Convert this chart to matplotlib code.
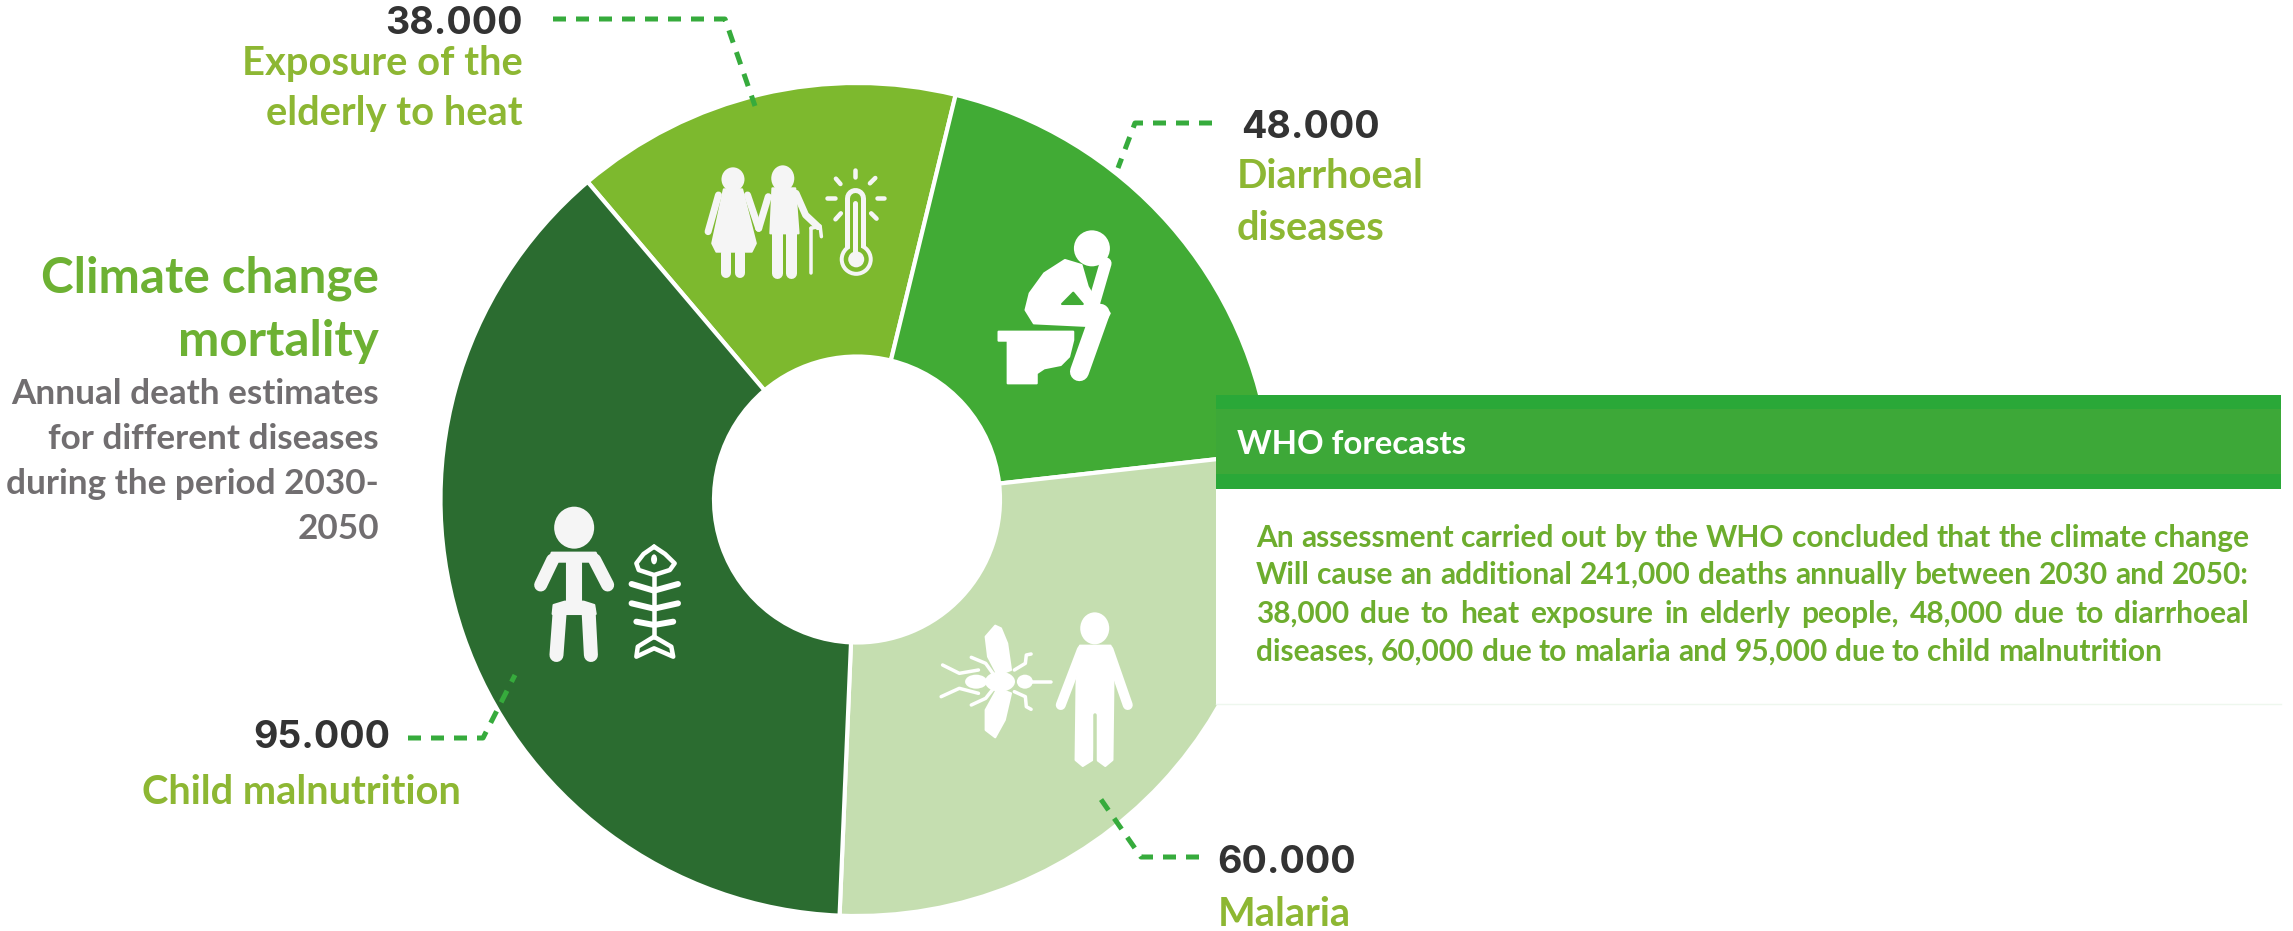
import matplotlib
matplotlib.use("Agg")
import matplotlib.pyplot as plt
from matplotlib.patches import Ellipse, Polygon, Rectangle

# -------------------------
# Data
# -------------------------
categories = ["Exposure of the\nelderly to heat", "Diarrhoeal\ndiseases", "Malaria", "Child malnutrition"]
death_labels = ["38.000", "48.000", "60.000", "95.000"]
# slice sizes as drawn in the picture (degrees), not exactly proportional to deaths
slice_degrees = [54.0, 69.9, 98.8, 137.3]
slice_colors = ["#7DB92E", "#41AB35", "#C5DEB0", "#2B6C30"]

title_lines = ["Climate change", "mortality"]
subtitle_lines = ["Annual death estimates", "for different diseases", "during the period 2030-", "2050"]
box_title = "WHO forecasts"
box_lines = [
    "An assessment carried out by the WHO concluded that the climate change",
    "Will cause an additional 241,000 deaths annually between 2030 and 2050:",
    "38,000 due to heat exposure in elderly people, 48,000 due to diarrhoeal",
    "diseases, 60,000 due to malaria and 95,000 due to child malnutrition",
]

W, H = 2293, 931
plt.rcParams["font.family"] = ["Lato", "DejaVu Sans"]
fig = plt.figure(figsize=(W / 100, H / 100), dpi=100)
ax = fig.add_axes([0, 0, 1, 1])

# -------------------------
# Donut (axis runs in image pixels, y downwards)
# -------------------------
ax.pie(slice_degrees, colors=slice_colors, center=(857, 499.5), radius=416.5, startangle=-130.3,
       wedgeprops=dict(width=273.5, edgecolor="white", linewidth=3))
ax.set_xlim(0, W)
ax.set_ylim(H, 0)
ax.set_aspect("auto")
ax.axis("off")


def px(v):
    return v * 0.72


def crop(x0, y0, sx, sy):
    return lambda pts: [(x0 + a / sx, y0 + b / sy) for a, b in pts]


def stroke(pts, lw, color="white", z=3):
    ax.plot(*zip(*pts), lw=px(lw), color=color, solid_capstyle="round", solid_joinstyle="round", zorder=z)


def poly(pts, color="white", z=3):
    ax.add_patch(Polygon(pts, closed=True, fc=color, ec=color, lw=1.5, joinstyle="round", zorder=z))


def dot(x, y, rx, ry, color="white", z=3):
    ax.add_patch(Ellipse((x, y), 2 * rx, 2 * ry, fc=color, ec="none", zorder=z))


# -------------------------
# Icons
# -------------------------
GREY = "#F5F5F5"
c = crop(650, 100, 2.41, 3)
# elderly couple
dot(*c([(200, 238)])[0], 11.5, 12, GREY)
poly(c([(178, 268), (222, 268), (255, 430), (245, 455), (160, 455), (150, 430)]), GREY)
stroke(c([(165, 285), (140, 395)]), 7, GREY)
stroke(c([(235, 285), (262, 385)]), 7, GREY)
stroke(c([(183, 460), (183, 520)]), 10, GREY)
stroke(c([(218, 460), (218, 520)]), 10, GREY)
dot(*c([(320, 235)])[0], 11.5, 13, GREY)
poly(c([(295, 265), (350, 265), (358, 400), (290, 400)]), GREY)
stroke(c([(305, 400), (305, 520)]), 11, GREY)
stroke(c([(340, 400), (340, 520)]), 11, GREY)
stroke(c([(285, 290), (262, 385)]), 7, GREY)
stroke(c([(352, 280), (375, 345), (405, 380)]), 7, GREY)
stroke(c([(388, 385), (388, 520)]), 3.5, GREY)
stroke(c([(388, 385), (410, 378), (413, 410)]), 3.5, GREY)
# thermometer
stroke(c([(495, 295), (495, 470)]), 21, GREY)
dot(*c([(497, 478)])[0], 16.5, 16.5, GREY)
stroke(c([(495, 295), (495, 470)]), 11, slice_colors[0])
dot(*c([(497, 478)])[0], 12.5, 12.5, slice_colors[0])
stroke(c([(495, 310), (495, 470)]), 5, GREY)
dot(*c([(497, 478)])[0], 8, 8, GREY)
for ray in [[(494, 210), (494, 232)], [(448, 236), (459, 252)], [(543, 234), (530, 250)], [(427, 295), (445, 295)],
            [(546, 294), (565, 294)], [(447, 358), (460, 340)], [(546, 356), (533, 340)]]:
    stroke(c(ray), 4.5, GREY)

# figure on the toilet
dot(*c([(1065, 445)])[0], 18, 18)
poly(c([(1000, 480), (1040, 495), (1055, 560), (1080, 612), (1095, 620), (1108, 640), (1090, 680), (925, 670),
        (905, 630), (915, 580), (950, 520)]))
stroke(c([(1085, 640), (1035, 815)]), 19)
stroke(c([(1098, 490), (1070, 610)]), 12)
poly(c([(1020, 578), (993, 612), (1043, 612)]), slice_colors[1])
poly(c([(840, 695), (1020, 695), (1020, 720), (1010, 770), (990, 795), (950, 805), (932, 820), (932, 850),
        (862, 850), (862, 722), (840, 722)]))

c = crop(500, 480, 2.09, 3)
# child
dot(*c([(155, 143)])[0], 20, 21, GREY)
poly(c([(108, 218), (200, 218), (208, 245), (102, 245)]), GREY)
stroke(c([(110, 240), (85, 315)]), 13, GREY)
stroke(c([(198, 240), (225, 315)]), 13, GREY)
poly(c([(140, 240), (170, 240), (170, 370), (140, 370)]), GREY)
poly(c([(112, 375), (135, 365), (175, 365), (197, 375), (200, 402), (110, 402)]), GREY)
stroke(c([(125, 390), (118, 525)]), 14, GREY)
stroke(c([(185, 390), (190, 525)]), 14, GREY)
# fish bones
stroke(c([(322, 200), (300, 222), (285, 250), (290, 270), (322, 285), (355, 270), (365, 250), (345, 222), (322, 200)]), 4.5)
dot(*c([(322, 238)])[0], 3, 5)
stroke(c([(322, 285), (322, 470)]), 4.5)
stroke(c([(275, 312), (322, 332), (372, 312)]), 6)
stroke(c([(275, 370), (322, 386), (372, 370)]), 6)
stroke(c([(285, 425), (322, 435), (362, 425)]), 6)
stroke(c([(322, 470), (288, 500), (285, 530), (322, 505), (362, 530), (358, 500), (322, 470)]), 4.5)

# mosquito
dot(*c([(995, 605)])[0], 11, 7)
dot(*c([(1045, 605)])[0], 15, 10)
dot(*c([(1097, 605)])[0], 8, 7)
stroke(c([(1097, 605), (1152, 605)]), 3.5)
poly(c([(1035, 437), (1015, 470), (1020, 530), (1040, 585), (1068, 570), (1060, 490), (1047, 445)]))
poly(c([(1040, 625), (1068, 640), (1055, 720), (1035, 772), (1015, 750), (1015, 690)]))
for leg in [[(1030, 580), (1015, 550), (985, 532)], [(1000, 570), (960, 580), (925, 555)],
            [(1000, 640), (960, 625), (922, 650)], [(1030, 628), (1015, 655), (985, 675)],
            [(1075, 570), (1098, 550), (1100, 525), (1110, 522)], [(1075, 635), (1098, 650), (1100, 680), (1110, 688)]]:
    stroke(c(leg), 3.5)
# person
dot(*c([(1243, 445)])[0], 14.5, 16)
poly(c([(1212, 497), (1276, 497), (1282, 610), (1280, 840), (1265, 858), (1248, 840), (1243, 705), (1238, 840),
        (1218, 858), (1203, 840), (1205, 610)]))
stroke(c([(1243, 705), (1243, 860)]), 3.5, slice_colors[2])
stroke(c([(1216, 510), (1172, 675)]), 10)
stroke(c([(1272, 510), (1312, 675)]), 10)

# -------------------------
# Leader lines
# -------------------------
leaders = [
    [(553, 19), (725, 19), (755, 106)],
    [(1212, 123), (1135, 123), (1118, 168)],
    [(1199, 857), (1141, 857), (1100, 798)],
    [(408, 738), (483, 738), (515, 675)],
]
for pts in leaders:
    ax.plot(*zip(*pts), color="#36AB3C", lw=px(5), ls=(0, (2.6, 2.0)), dash_capstyle="butt", zorder=4)

# -------------------------
# Labels
# -------------------------
NUM = "#333333"
LAB = "#8DB733"
num_font = dict(family=["Inter", "DejaVu Sans"], fontweight="bold", fontsize=27, color=NUM, va="center", zorder=5)
lab_font = dict(fontweight="bold", fontsize=28.7, color=LAB, va="center", zorder=5)

ax.text(523, 24, death_labels[0], ha="right", **num_font)
for y, s in zip([63, 113], categories[0].split("\n")):
    ax.text(523, y, s, ha="right", **lab_font)
ax.text(1241, 128, death_labels[1], ha="left", **num_font)
for y, s in zip([176, 228], categories[1].split("\n")):
    ax.text(1237, y, s, ha="left", **lab_font)
ax.text(1217, 863, death_labels[2], ha="left", **num_font)
ax.text(1218, 914, categories[2], ha="left", **lab_font)
ax.text(390, 738, death_labels[3], ha="right", **num_font)
ax.text(142, 793, categories[3], ha="left", **lab_font)

for y, s in zip([278, 341], title_lines):
    ax.text(379, y, s, ha="right", va="center", fontweight="bold", fontsize=35.6, color="#6DB133", zorder=5)
for y, s in zip([394, 439, 484, 529], subtitle_lines):
    ax.text(379, y, s, ha="right", va="center", fontweight="bold", fontsize=25.3, color="#716E70", zorder=5)

# -------------------------
# WHO box
# -------------------------
ax.add_patch(Rectangle((1216, 489), 1065, 215, fc="white", ec="none", zorder=6))
ax.plot([1216, 2281], [704, 704], color="#EEF7EE", lw=1, zorder=6)
ax.add_patch(Rectangle((1216, 395), 1065, 94, fc="#2AA838", ec="none", zorder=6))
ax.add_patch(Rectangle((1216, 409), 1065, 65, fc="#3DA838", ec="none", zorder=6))
ax.text(1237, 445, box_title, ha="left", va="center", fontweight="bold", fontsize=23.8, color="white", zorder=7)


def justified(line, x0, x1, y, stretch=True, **kw):
    # place word by word so the line fills x0..x1
    words = line.split(" ")
    renderer = fig.canvas.get_renderer()
    items = [ax.text(0, y, w, ha="left", va="center", **kw) for w in words]
    widths = [t.get_window_extent(renderer).width for t in items]
    space = ax.text(0, y, "n n", **kw)
    nn = space.get_window_extent(renderer).width
    one = ax.text(0, y, "nn", **kw)
    gap = nn - one.get_window_extent(renderer).width
    space.remove()
    one.remove()
    if stretch:
        gap = (x1 - x0 - sum(widths)) / (len(words) - 1)
    x = x0
    for t, w in zip(items, widths):
        t.set_x(x)
        x += w + gap


body_font = dict(fontweight="bold", fontsize=21.5, color="#6DAD2E", zorder=7)
for i, (y, s) in enumerate(zip([538, 575, 614, 652], box_lines)):
    justified(s, 1256, 2249, y, stretch=i < 3, **body_font)

fig.savefig("out.png", dpi=100)
